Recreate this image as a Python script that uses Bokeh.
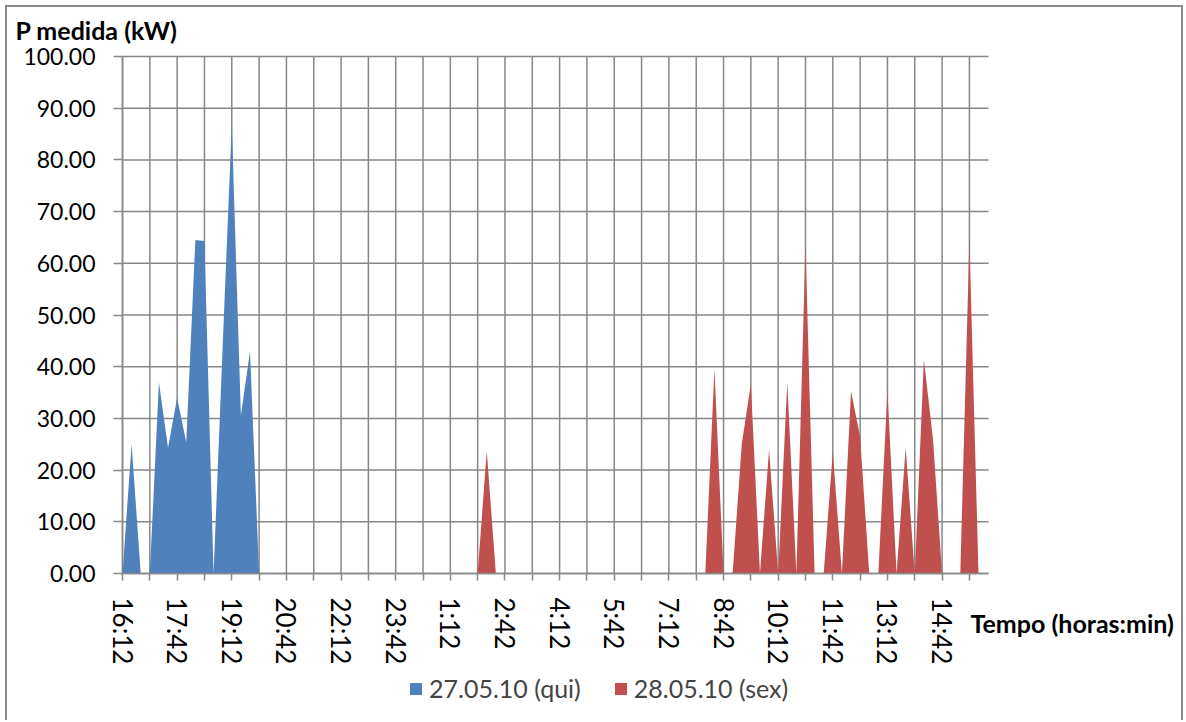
from bokeh.plotting import figure
from bokeh.models import (Range1d, FixedTicker, NumeralTickFormatter, Legend, LegendItem,
                          Title, Label)
from bokeh.embed import file_html
from bokeh.resources import INLINE

# x tick labels (every 6th 15-min slot, starting at 16:12)
tick_labels = ["16:12", "17:42", "19:12", "20:42", "22:12", "23:42", "1:12", "2:42",
               "4:12", "5:42", "7:12", "8:42", "10:12", "11:42", "13:12", "14:42"]

# P medida (kW), one value per 15-min slot (96 slots)
qui = [0, 25, 0, 0, 37, 24.3, 34, 25.4, 64.5, 64.3, 0, 44, 87, 30.6, 43, 0,
       0, 0, 0, 0, 0, 0, 0, 0, 0, 0, 0, 0, 0, 0, 0, 0,
       0, 0, 0, 0, 0, 0, 0, 0, 0, 0, 0, 0, 0, 0, 0, 0,
       0, 0, 0, 0, 0, 0, 0, 0, 0, 0, 0, 0, 0, 0, 0, 0,
       0, 0, 0, 0, 0, 0, 0, 0, 0, 0, 0, 0, 0, 0, 0, 0,
       0, 0, 0, 0, 0, 0, 0, 0, 0, 0, 0, 0, 0, 0, 0, 0]
sex = [0, 0, 0, 0, 0, 0, 0, 0, 0, 0, 0, 0, 0, 0, 0, 0,
       0, 0, 0, 0, 0, 0, 0, 0, 0, 0, 0, 0, 0, 0, 0, 0,
       0, 0, 0, 0, 0, 0, 0, 0, 23.7, 0, 0, 0, 0, 0, 0, 0,
       0, 0, 0, 0, 0, 0, 0, 0, 0, 0, 0, 0, 0, 0, 0, 0,
       0, 39.6, 0, 0, 25, 36.7, 0, 24, 0, 37, 0, 63.5, 0, 0, 23.5, 0,
       35.3, 26.4, 0, 0, 35.4, 0, 24.3, 0, 41.4, 26, 0, 0, 0, 64.5, 0, 0]

series_names = ["27.05.10 (qui)", "28.05.10 (sex)"]
y_title = "P medida (kW)"
x_title = "Tempo (horas:min)"
colors = ["#4F81BD", "#C0504D"]

n = len(qui)
idx = list(range(n))
x_last = 95.1          # right end of the category axis
xticks = list(range(0, n, 3))
yticks = list(range(0, 101, 10))

FONT = "Lato"
GRID = "#878787"
BORDER = "#8a8a8a"

# the frame covers the whole chart area (tick labels, legend and x title included);
# both axes are pinned at 0 and bounded to the data area
p = figure(frame_width=1170, frame_height=676, output_backend="svg", toolbar_location=None,
           x_range=Range1d(-12.2993, 116.18), y_range=Range1d(-28.433, 102.321),
           min_border_left=10, min_border_right=4, min_border_top=44,
           min_border_bottom=0)
p.styles = {"box-shadow": f"inset 5px 5px 0 0 white, inset -1px 0 0 0 white, "
                          f"inset 7px 7px 0 0 {BORDER}, inset -3px 0 0 0 {BORDER}"}
p.outline_line_color = None
p.background_fill_color = "white"
p.border_fill_color = None
p.xgrid.visible = False
p.ygrid.visible = False

# grid lines of the plot area
p.segment(x0=xticks, y0=0, x1=xticks, y1=100, line_color=GRID, line_width=1.5,
          level="underlay")
p.segment(x0=0, y0=yticks, x1=x_last, y1=yticks, line_color=GRID, line_width=1.5,
          level="underlay")

r1 = p.varea(x=idx, y1=0, y2=qui, fill_color=colors[0], fill_alpha=1)
r2 = p.varea(x=idx, y1=0, y2=sex, fill_color=colors[1], fill_alpha=1)

# x axis
overrides = {t: "" for t in xticks}
for k, lab in enumerate(tick_labels):
    overrides[k * 6] = lab
p.xaxis.fixed_location = 0
p.xaxis.bounds = (0, x_last)
p.xaxis.ticker = FixedTicker(ticks=xticks)
p.xaxis.major_label_overrides = overrides
p.xaxis.major_label_orientation = "vertical"
p.xaxis.major_tick_out = 7
p.xaxis.major_tick_in = 0
p.xaxis.minor_tick_line_color = None
p.xaxis.axis_line_color = GRID
p.xaxis.axis_line_width = 1.5
p.xaxis.major_tick_line_color = GRID
p.xaxis.major_tick_line_width = 1.5
p.xaxis.major_label_standoff = 17
p.xaxis.major_label_text_font = FONT
p.xaxis.major_label_text_font_size = "26px"
p.xaxis.major_label_text_color = "black"

# y axis
p.yaxis.fixed_location = 0
p.yaxis.bounds = (0, 100)
p.yaxis.ticker = FixedTicker(ticks=yticks)
p.yaxis.formatter = NumeralTickFormatter(format="0.00")
p.yaxis.major_tick_out = 9
p.yaxis.major_tick_in = 0
p.yaxis.minor_tick_line_color = None
p.yaxis.axis_line_color = GRID
p.yaxis.axis_line_width = 1.5
p.yaxis.major_tick_line_color = GRID
p.yaxis.major_tick_line_width = 1.5
p.yaxis.major_label_standoff = 18
p.yaxis.major_label_text_font = FONT
p.yaxis.major_label_text_font_size = "23px"
p.yaxis.major_label_text_color = "black"

# y axis title (top left)
p.add_layout(Title(text=y_title, align="left", vertical_align="bottom", offset=5,
                   standoff=0, text_font=FONT, text_font_style="bold",
                   text_font_size="25px", text_color="black"), "above")

# x axis title, right of the tick labels
p.add_layout(Label(x=93.12, y=-9.6, text=x_title, text_font=FONT,
                   text_font_style="bold", text_font_size="25px", text_color="black",
                   text_baseline="alphabetic"))

legend = Legend(items=[LegendItem(label=series_names[0], renderers=[r1]),
                       LegendItem(label=series_names[1], renderers=[r2])],
                orientation="horizontal", location=(398, 17),
                label_text_font=FONT, label_text_font_size="25px",
                glyph_width=15, glyph_height=15, label_standoff=6, spacing=32,
                border_line_color=None, background_fill_alpha=0, padding=4, margin=0)
p.add_layout(legend, "center")

open("out.html", "w").write(file_html(p, INLINE))
